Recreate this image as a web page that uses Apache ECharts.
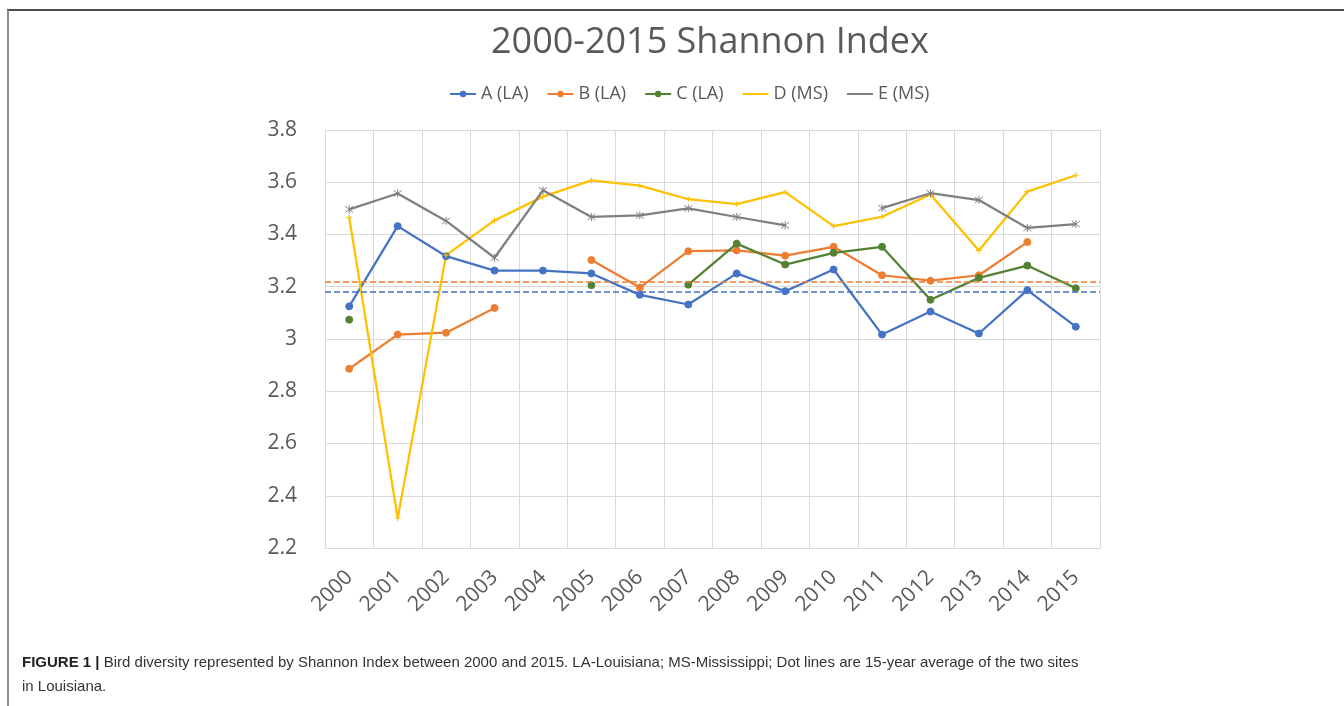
<!DOCTYPE html>
<html>
<head>
<meta charset="utf-8">
<script src="https://cdn.jsdelivr.net/npm/echarts@6/dist/echarts.min.js"></script>
<style>
  html, body { margin: 0; padding: 0; background: #fff; }
  #shannon-chart { width: 1344px; height: 706px; }
</style>
</head>
<body>
<div id="shannon-chart"></div>
<script>
// years on the category axis
const years = ['2000', '2001', '2002', '2003', '2004', '2005', '2006', '2007',
  '2008', '2009', '2010', '2011', '2012', '2013', '2014', '2015']

// Shannon index per site, null where there is no survey
const siteA = [3.125, 3.432, 3.317, 3.262, 3.262, 3.251, 3.169, 3.132, 3.251, 3.183, 3.266, 3.017, 3.105, 3.021, 3.187, 3.047]
const siteB = [2.886, 3.017, 3.024, 3.119, null, 3.302, 3.197, 3.336, 3.339, 3.319, 3.353, 3.244, 3.223, 3.244, 3.371, null]
const siteC = [3.074, null, null, null, null, 3.206, null, 3.208, 3.365, 3.285, 3.330, 3.353, 3.150, 3.234, 3.281, 3.194]
const siteD = [3.466, 2.314, 3.321, 3.454, 3.545, 3.607, 3.587, 3.535, 3.516, 3.562, 3.432, 3.468, 3.553, 3.339, 3.564, 3.627]
const siteE = [3.496, 3.557, 3.452, 3.311, 3.569, 3.467, 3.473, 3.500, 3.467, 3.435, null, 3.501, 3.558, 3.532, 3.425, 3.440]

// 15-year averages of the two Louisiana sites (dotted lines)
const avgA = 3.177
const avgB = 3.219

const yMin = 2.2
const yMax = 3.8
const yStep = 0.2

const chart = echarts.init(document.getElementById('shannon-chart'))

const plusPath = 'path://M-1,0 L1,0 M0,-1 L0,1'
const starPath = 'path://M-1,-1 L1,1 M-1,1 L1,-1 M0,-1.3 L0,1.3'

function avgLine(value, color) {
  return {
    silent: true,
    symbol: 'none',
    label: { show: false },
    lineStyle: { color: color, type: [6, 3], width: 1.5 },
    data: [{ yAxis: value }],
  }
}

function lineSeries(name, data, color, symbol, size, extra) {
  return Object.assign({
    name: name,
    type: 'line',
    data: data,
    connectNulls: false,
    symbol: symbol,
    symbolSize: size,
    showAllSymbol: true,
    lineStyle: { color: color, width: 2.25 },
    itemStyle: { color: color, borderColor: color },
    emphasis: { disabled: true },
  }, extra || {})
}

chart.setOption({
  animation: false,
  color: ['#4472c4', '#ed7d31', '#548235', '#ffc000', '#7f7f7f'],
  title: {
    text: '2000-2015 Shannon Index',
    left: 486,
    top: 20,
    textStyle: { fontFamily: 'Open Sans', fontSize: 36, fontWeight: 'normal', color: '#595959' },
  },
  legend: {
    top: 80,
    left: 444,
    itemGap: 18,
    itemWidth: 26,
    itemHeight: 8,
    textStyle: { fontFamily: 'Open Sans', fontSize: 18, color: '#595959' },
    data: ['A (LA)', 'B (LA)', 'C (LA)', 'D (MS)', 'E (MS)'],
  },
  grid: { left: 325, top: 130, right: 244, bottom: 158 },
  xAxis: {
    type: 'category',
    data: years,
    boundaryGap: true,
    axisLine: { show: true, lineStyle: { color: '#d9d9d9' } },
    axisTick: { show: false },
    splitLine: { show: true, lineStyle: { color: '#d9d9d9', width: 1 } },
    axisLabel: {
      rotate: 45,
      margin: 26,
      interval: 0,
      fontFamily: 'Open Sans',
      fontSize: 21,
      color: '#595959',
    },
  },
  yAxis: {
    type: 'value',
    min: yMin,
    max: yMax,
    interval: yStep,
    axisLine: { show: false },
    axisTick: { show: false },
    splitLine: { lineStyle: { color: '#d9d9d9', width: 1 } },
    axisLabel: {
      margin: 28,
      fontFamily: 'Open Sans',
      fontSize: 21,
      color: '#595959',
      formatter: (v) => String(+v.toFixed(1)),
    },
  },
  series: [
    lineSeries('A (LA)', siteA, '#4472c4', 'circle', 7, { markLine: avgLine(avgA, '#4472c4') }),
    lineSeries('B (LA)', siteB, '#ed7d31', 'circle', 7, { markLine: avgLine(avgB, '#ed7d31') }),
    lineSeries('C (LA)', siteC, '#548235', 'circle', 7),
    lineSeries('D (MS)', siteD, '#ffc000', plusPath, 6),
    lineSeries('E (MS)', siteE, '#7f7f7f', starPath, 8),
  ],
  graphic: [
    { type: 'line', shape: { x1: 7, y1: 10, x2: 1344, y2: 10 }, style: { stroke: '#4d4d4d', lineWidth: 2 } },
    { type: 'line', shape: { x1: 8, y1: 10, x2: 8, y2: 706 }, style: { stroke: '#8c8c8c', lineWidth: 2 } },
    {
      type: 'text',
      left: 22,
      top: 655,
      style: {
        text: '{b|FIGURE 1 |} Bird diversity represented by Shannon Index between 2000 and 2015. LA-Louisiana; MS-Mississippi; Dot lines are 15-year average of the two sites',
        font: '15px "Liberation Sans", Arial, sans-serif',
        fill: '#333333',
        rich: { b: { fontWeight: 'bold', fontSize: 15, fontFamily: 'Liberation Sans', fill: '#222222' } },
      },
    },
    {
      type: 'text',
      left: 22,
      top: 679,
      style: {
        text: 'in Louisiana.',
        font: '15px "Liberation Sans", Arial, sans-serif',
        fill: '#333333',
      },
    },
  ],
})
</script>
</body>
</html>
